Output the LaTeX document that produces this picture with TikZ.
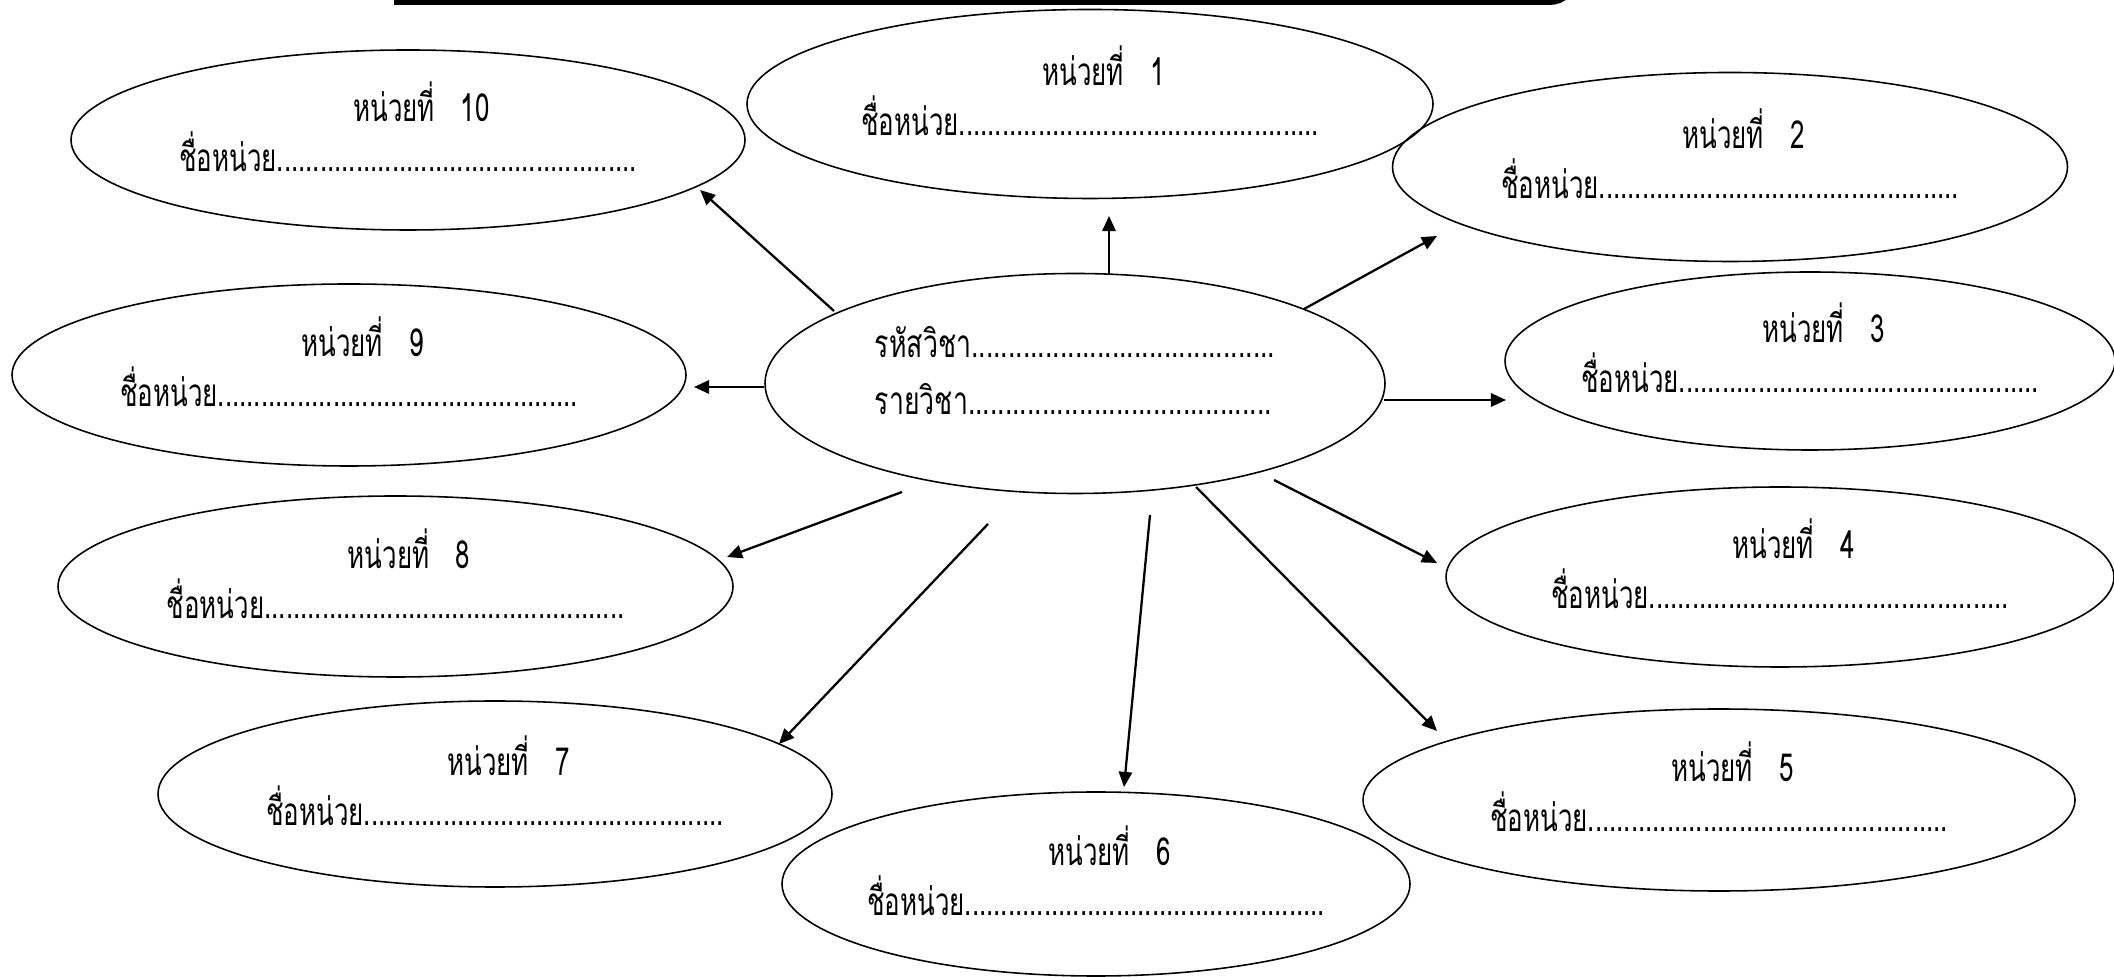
\documentclass[tikz,border=0pt]{standalone}
\usepackage{fontspec}
\newfontfamily\unitfont[Script=Thai,FakeStretch=0.67]{Loma}
\newfontfamily\hubfont[Script=Thai,FakeStretch=0.69]{Loma}
\usetikzlibrary{shapes.geometric,arrows.meta}

\begin{document}
\begin{tikzpicture}
  [unit/.style={ellipse,draw,line width=0.45pt,inner sep=0pt},
   utext/.style={inner sep=0pt,align=center,font=\unitfont\fontsize{11}{14.2}\selectfont},
   htext/.style={inner sep=0pt,align=left,font=\hubfont\fontsize{11}{16}\selectfont},
   arr/.style={line width=0.65pt,-{Triangle[length=4.3pt,width=3.8pt]}}]
  \useasboundingbox (0,0) rectangle (21.14,9.76);
  \clip (0,0) rectangle (21.14,9.76);

  % top frame edge
  \draw[line width=1.4pt] (3.94,9.735) -- (15.5,9.735) arc (-90:0:0.25);

  \node[unit,minimum width=6.2cm,minimum height=2.2cm] (C) at (10.75,5.925) {};
  \node[htext] (T_C) at ([yshift=1.3mm]C.center)
    {รหัสวิชา.........................................\\รายวิชา.........................................};

  \node[unit,minimum width=6.86cm,minimum height=1.89cm] (U_1) at (10.90,8.72) {};
  \node[unit,minimum width=6.75cm,minimum height=1.89cm] (U_2) at (17.30,8.09) {};
  \node[unit,minimum width=6.1cm,minimum height=1.78cm] (U_3) at (18.10,6.15) {};
  \node[unit,minimum width=6.68cm,minimum height=1.80cm] (U_4) at (17.80,3.99) {};
  \node[unit,minimum width=7.12cm,minimum height=1.82cm] (U_5) at (17.19,1.76) {};
  \node[unit,minimum width=6.28cm,minimum height=1.84cm] (U_6) at (10.96,0.92) {};
  \node[unit,minimum width=6.74cm,minimum height=1.86cm] (U_7) at (4.95,1.82) {};
  \node[unit,minimum width=6.75cm,minimum height=1.81cm] (U_8) at (3.955,3.895) {};
  \node[unit,minimum width=6.74cm,minimum height=1.82cm] (U_9) at (3.49,6.01) {};
  \node[unit,minimum width=6.74cm,minimum height=1.80cm] (U_10) at (4.08,8.36) {};

  % unit texts
  \foreach \n in {1,...,10}
    \node[utext] (T_\n) at ([yshift=1.3mm]U_\n.center)
      {\hspace*{2.7mm}หน่วยที่~~~\n\\ชื่อหน่วย..................................................};

  % arrow ends
  \coordinate (S_1) at (11.09,7.02);  \coordinate (E_1) at (11.09,7.60);
  \coordinate (S_2) at (13.04,6.67);  \coordinate (E_2) at (14.37,7.40);
  \coordinate (S_3) at (13.84,5.76);  \coordinate (E_3) at (15.06,5.76);
  \coordinate (S_4) at (12.74,4.96);  \coordinate (E_4) at (14.37,4.13);
  \coordinate (S_5) at (11.96,4.89);  \coordinate (E_5) at (14.37,2.45);
  \coordinate (S_6) at (11.50,4.61);  \coordinate (E_6) at (11.24,1.89);
  \coordinate (S_7) at (9.88,4.52);   \coordinate (E_7) at (7.79,2.32);
  \coordinate (S_8) at (9.02,4.84);   \coordinate (E_8) at (7.27,4.19);
  \coordinate (S_9) at (7.64,5.89);   \coordinate (E_9) at (6.94,5.89);
  \coordinate (S_10) at (8.34,6.65);  \coordinate (E_10) at (7.00,7.86);
  \foreach \from/\to in {S_1/E_1,S_2/E_2,S_3/E_3,S_4/E_4,S_5/E_5,
                         S_6/E_6,S_7/E_7,S_8/E_8,S_9/E_9,S_10/E_10}
    \draw[arr] (\from) -- (\to);

\end{tikzpicture}
\end{document}
